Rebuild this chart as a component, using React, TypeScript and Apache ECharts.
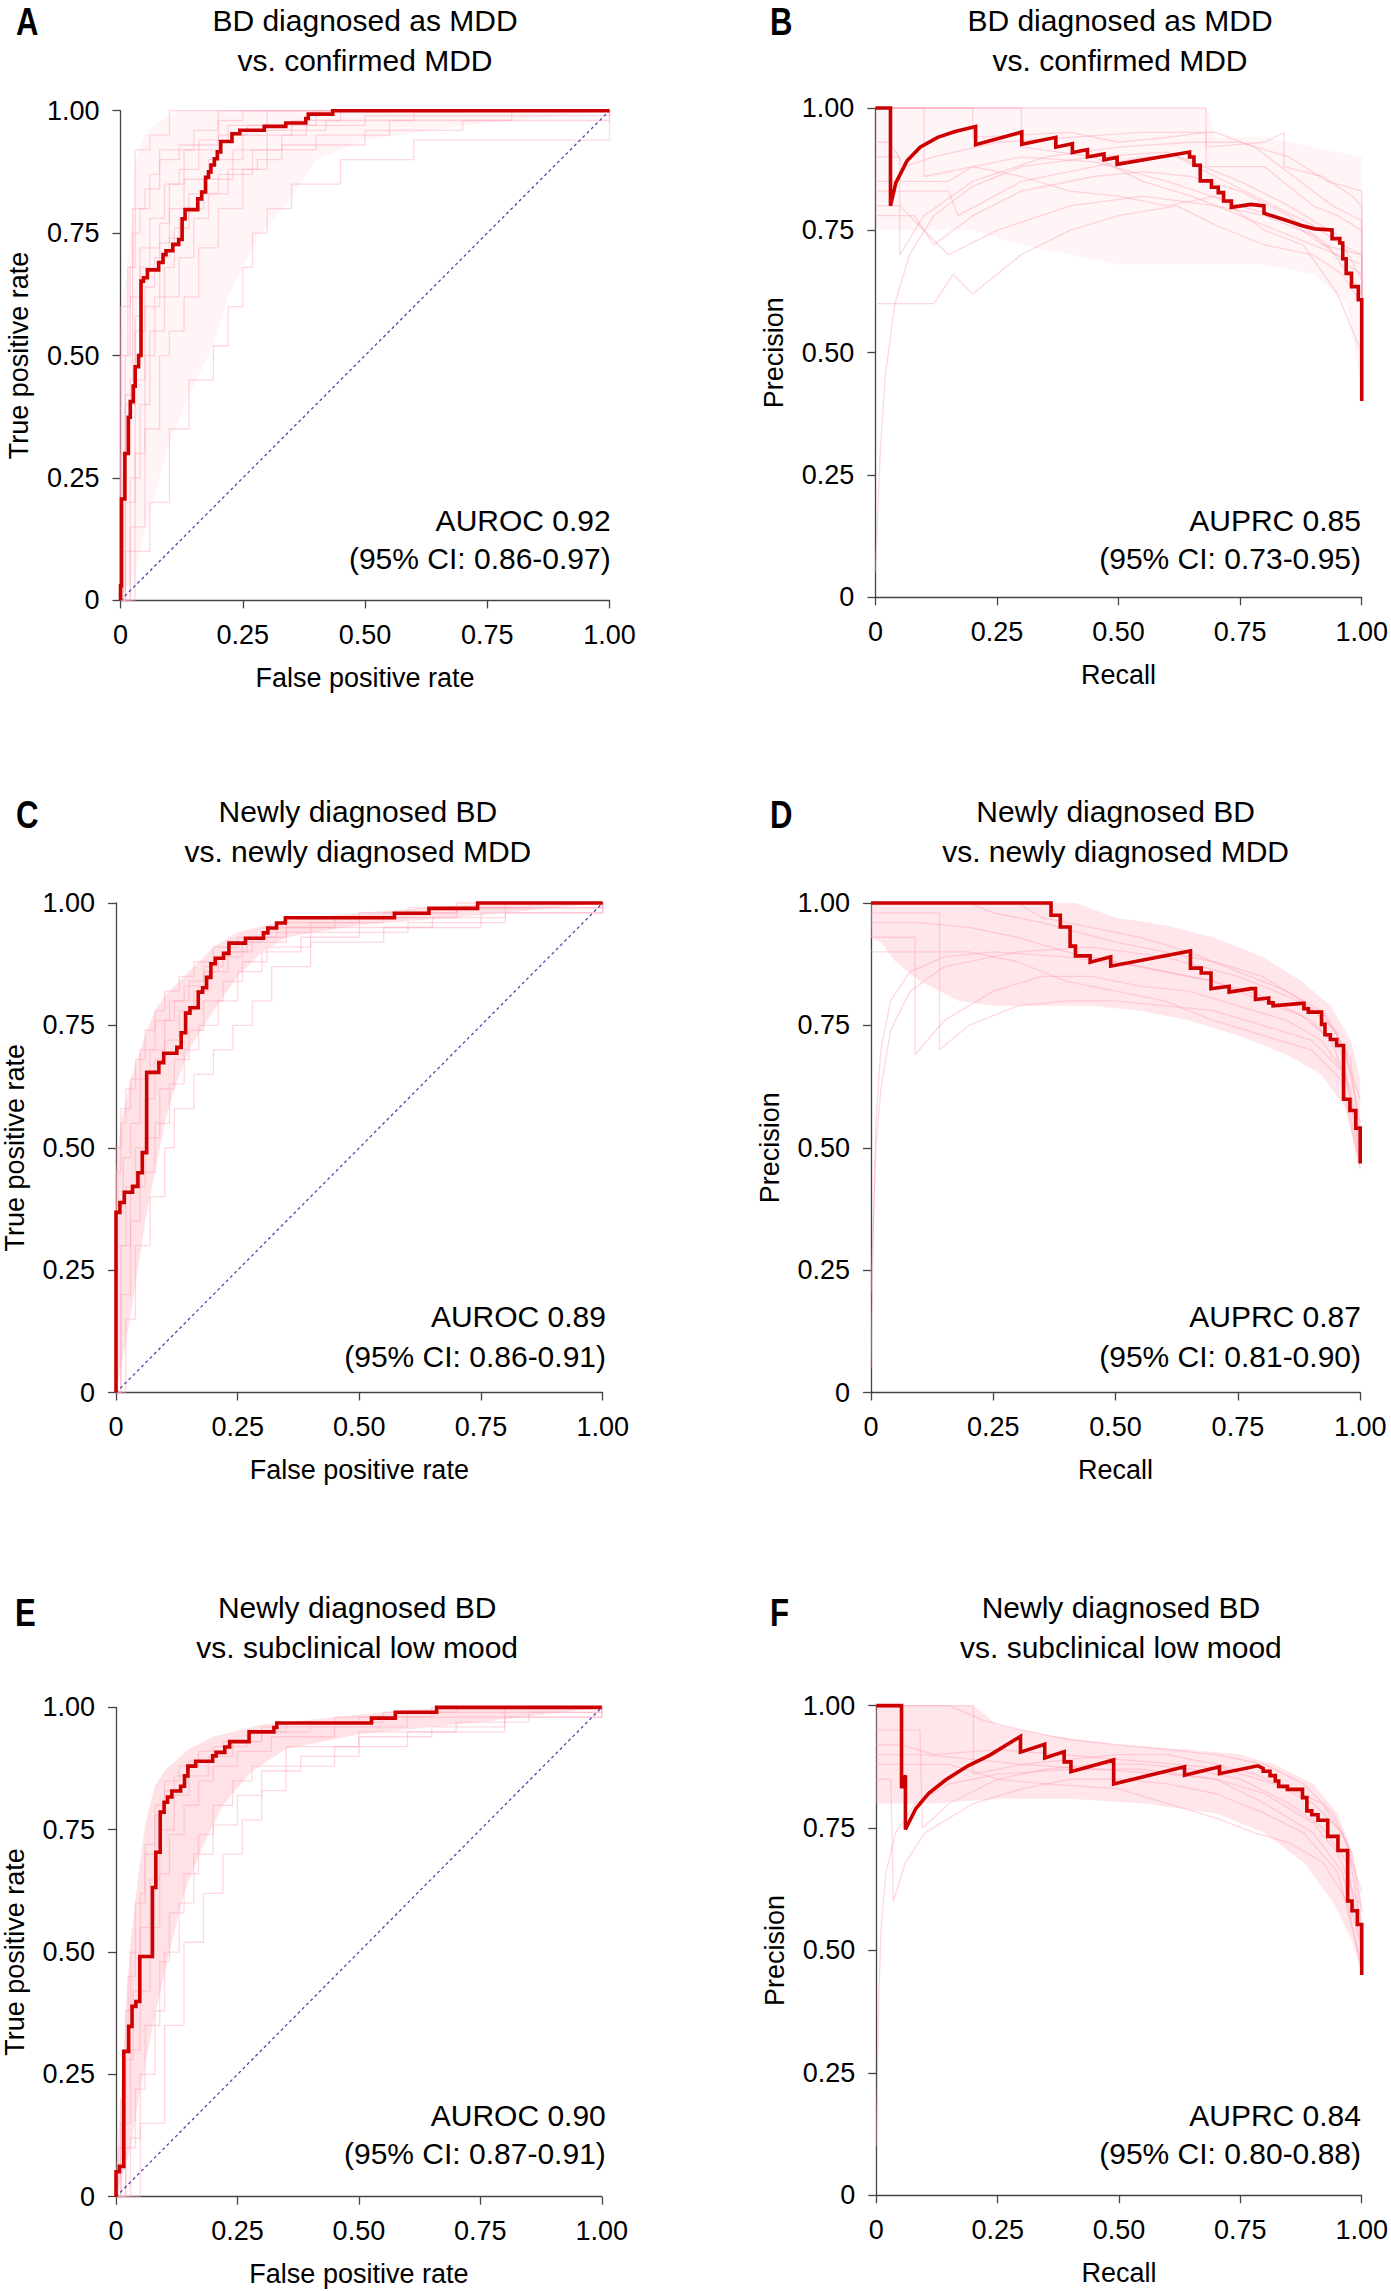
import React, { useEffect, useRef } from "react";
import * as echarts from "echarts";

const PAGE_W = 1391;
const PAGE_H = 2291;
const FONT = '"Liberation Sans", Arial, Helvetica, sans-serif';

// ---------- text ----------
const tickValues = [0, 0.25, 0.5, 0.75, 1];
const tickLabels = ["0", "0.25", "0.50", "0.75", "1.00"];
const panelLetters = ["A", "B", "C", "D", "E", "F"];
const titleLine1 = [
  "BD diagnosed as MDD",
  "BD diagnosed as MDD",
  "Newly diagnosed BD",
  "Newly diagnosed BD",
  "Newly diagnosed BD",
  "Newly diagnosed BD",
];
const titleLine2 = [
  "vs. confirmed MDD",
  "vs. confirmed MDD",
  "vs. newly diagnosed MDD",
  "vs. newly diagnosed MDD",
  "vs. subclinical low mood",
  "vs. subclinical low mood",
];
const metricText = ["AUROC 0.92", "AUPRC 0.85", "AUROC 0.89", "AUPRC 0.87", "AUROC 0.90", "AUPRC 0.84"];
const ciText = [
  "(95% CI: 0.86-0.97)",
  "(95% CI: 0.73-0.95)",
  "(95% CI: 0.86-0.91)",
  "(95% CI: 0.81-0.90)",
  "(95% CI: 0.87-0.91)",
  "(95% CI: 0.80-0.88)",
];
const xNames = ["False positive rate", "Recall", "False positive rate", "Recall", "False positive rate", "Recall"];
const yNames = ["True positive rate", "Precision", "True positive rate", "Precision", "True positive rate", "Precision"];
const panelKinds = ["roc", "pr", "roc", "pr", "roc", "pr"];

// ---------- main (red) curves ----------
// ROC: corner points, drawn as step ("end")
const rocA_fpr = [0, 0, 0.002, 0.009, 0.016, 0.02, 0.026, 0.03, 0.037, 0.042, 0.047, 0.055, 0.078, 0.087, 0.093, 0.107, 0.119, 0.126, 0.132, 0.158, 0.166, 0.174, 0.18, 0.185, 0.192, 0.198, 0.205, 0.228, 0.244, 0.294, 0.338, 0.379, 0.384, 0.434, 1];
const rocA_tpr = [0, 0.03, 0.207, 0.3, 0.374, 0.406, 0.4375, 0.477, 0.5, 0.652, 0.659, 0.675, 0.69, 0.706, 0.714, 0.727, 0.737, 0.779, 0.798, 0.82, 0.834, 0.864, 0.875, 0.889, 0.902, 0.916, 0.937, 0.953, 0.96, 0.968, 0.975, 0.984, 0.993, 1, 1];

const rocC_fpr = [0, 0, 0.008, 0.017, 0.034, 0.045, 0.054, 0.063, 0.088, 0.098, 0.125, 0.134, 0.143, 0.152, 0.169, 0.178, 0.186, 0.195, 0.204, 0.221, 0.232, 0.266, 0.303, 0.312, 0.33, 0.348, 0.572, 0.643, 0.743, 1];
const rocC_tpr = [0, 0.368, 0.388, 0.409, 0.421, 0.449, 0.49, 0.654, 0.674, 0.693, 0.705, 0.735, 0.775, 0.786, 0.818, 0.827, 0.848, 0.876, 0.887, 0.897, 0.918, 0.928, 0.939, 0.949, 0.959, 0.97, 0.979, 0.989, 1, 1];

const rocE_fpr = [0, 0, 0.007, 0.016, 0.026, 0.033, 0.041, 0.049, 0.075, 0.082, 0.091, 0.099, 0.106, 0.115, 0.133, 0.141, 0.148, 0.164, 0.199, 0.206, 0.224, 0.234, 0.274, 0.325, 0.331, 0.526, 0.575, 0.66, 1];
const rocE_tpr = [0, 0.051, 0.062, 0.297, 0.348, 0.389, 0.399, 0.491, 0.632, 0.704, 0.786, 0.806, 0.817, 0.829, 0.839, 0.86, 0.88, 0.89, 0.901, 0.908, 0.919, 0.93, 0.95, 0.959, 0.968, 0.978, 0.99, 1, 1];

// PR: explicit vertices [recall, precision]
const prB = [[0, 1], [0.031, 1], [0.031, 0.8], [0.042, 0.847], [0.065, 0.892], [0.092, 0.92], [0.128, 0.94], [0.164, 0.952], [0.206, 0.962], [0.206, 0.925], [0.301, 0.951], [0.301, 0.926], [0.371, 0.94], [0.371, 0.92], [0.405, 0.927], [0.405, 0.909], [0.436, 0.915], [0.436, 0.9], [0.47, 0.906], [0.47, 0.894], [0.497, 0.899], [0.497, 0.885], [0.646, 0.91], [0.646, 0.9], [0.655, 0.9], [0.655, 0.883], [0.668, 0.883], [0.668, 0.851], [0.691, 0.851], [0.691, 0.838], [0.705, 0.838], [0.705, 0.827], [0.716, 0.827], [0.716, 0.81], [0.732, 0.81], [0.732, 0.797], [0.772, 0.803], [0.799, 0.8], [0.799, 0.785], [0.849, 0.769], [0.876, 0.76], [0.903, 0.753], [0.939, 0.751], [0.939, 0.733], [0.955, 0.733], [0.955, 0.724], [0.961, 0.724], [0.961, 0.692], [0.968, 0.692], [0.968, 0.662], [0.979, 0.662], [0.979, 0.635], [0.993, 0.635], [0.993, 0.608], [1, 0.608], [1, 0.401]];

const prD = [[0, 1], [0.368, 1], [0.368, 0.975], [0.387, 0.975], [0.387, 0.951], [0.407, 0.951], [0.407, 0.912], [0.418, 0.912], [0.418, 0.892], [0.448, 0.892], [0.448, 0.879], [0.49, 0.89], [0.49, 0.871], [0.653, 0.902], [0.653, 0.867], [0.675, 0.867], [0.675, 0.857], [0.695, 0.857], [0.695, 0.825], [0.732, 0.83], [0.732, 0.818], [0.777, 0.825], [0.786, 0.825], [0.786, 0.803], [0.813, 0.806], [0.813, 0.796], [0.822, 0.796], [0.822, 0.79], [0.88, 0.795], [0.885, 0.795], [0.885, 0.784], [0.894, 0.784], [0.894, 0.777], [0.921, 0.777], [0.921, 0.752], [0.928, 0.752], [0.928, 0.731], [0.939, 0.731], [0.939, 0.721], [0.952, 0.721], [0.952, 0.709], [0.966, 0.709], [0.966, 0.599], [0.979, 0.599], [0.979, 0.576], [0.991, 0.576], [0.991, 0.54], [1, 0.54], [1, 0.468]];

const prF = [[0, 1], [0.052, 1], [0.052, 0.831], [0.06, 0.858], [0.06, 0.747], [0.081, 0.789], [0.108, 0.821], [0.144, 0.849], [0.189, 0.877], [0.234, 0.899], [0.297, 0.937], [0.297, 0.905], [0.347, 0.921], [0.347, 0.893], [0.387, 0.906], [0.387, 0.885], [0.401, 0.885], [0.401, 0.865], [0.489, 0.889], [0.489, 0.84], [0.635, 0.875], [0.635, 0.858], [0.707, 0.875], [0.707, 0.861], [0.786, 0.877], [0.797, 0.872], [0.797, 0.866], [0.811, 0.866], [0.811, 0.857], [0.822, 0.857], [0.822, 0.846], [0.829, 0.846], [0.829, 0.835], [0.847, 0.835], [0.847, 0.829], [0.878, 0.829], [0.878, 0.812], [0.887, 0.812], [0.887, 0.785], [0.897, 0.785], [0.897, 0.777], [0.91, 0.777], [0.91, 0.766], [0.93, 0.766], [0.93, 0.733], [0.951, 0.733], [0.951, 0.704], [0.971, 0.704], [0.971, 0.601], [0.98, 0.601], [0.98, 0.581], [0.991, 0.581], [0.991, 0.553], [1, 0.553], [1, 0.45]];

// ---------- bootstrap (pink) curves ----------
const bootA1 = [[0, 0], [0, 0.6], [0.02, 0.68], [0.03, 0.92], [0.06, 0.95], [0.1, 1], [1, 1]];
const bootA2 = [[0, 0], [0.005, 0.3], [0.02, 0.45], [0.025, 0.8], [0.05, 0.84], [0.08, 0.92], [0.15, 0.96], [0.2, 1], [1, 1]];
const bootA3 = [[0, 0], [0.01, 0.2], [0.03, 0.45], [0.05, 0.6], [0.08, 0.73], [0.1, 0.8], [0.13, 0.86], [0.18, 0.9], [0.25, 0.95], [0.35, 0.98], [0.45, 1], [1, 1]];
const bootA4 = [[0, 0], [0.02, 0.15], [0.05, 0.35], [0.08, 0.5], [0.1, 0.55], [0.13, 0.62], [0.16, 0.72], [0.2, 0.8], [0.25, 0.88], [0.3, 0.92], [0.4, 0.95], [0.55, 0.98], [0.8, 1], [1, 1]];
const bootA5 = [[0, 0], [0.03, 0.1], [0.06, 0.2], [0.1, 0.35], [0.14, 0.45], [0.19, 0.52], [0.22, 0.6], [0.25, 0.68], [0.27, 0.75], [0.3, 0.8], [0.35, 0.85], [0.45, 0.9], [0.6, 0.94], [1, 1]];
const bootA6 = [[0, 0], [0, 0.5], [0.02, 0.62], [0.04, 0.68], [0.06, 0.78], [0.09, 0.85], [0.12, 0.88], [0.16, 0.94], [0.22, 0.97], [0.3, 1], [1, 1]];
const bootA7 = [[0, 0], [0.01, 0.4], [0.03, 0.55], [0.05, 0.64], [0.07, 0.7], [0.1, 0.74], [0.12, 0.78], [0.14, 0.83], [0.2, 0.87], [0.27, 0.92], [0.33, 0.95], [0.38, 0.97], [0.5, 0.99], [1, 1]];
const bootA8 = [[0, 0], [0.005, 0.25], [0.01, 0.42], [0.03, 0.58], [0.04, 0.72], [0.08, 0.77], [0.1, 0.85], [0.13, 0.92], [0.2, 0.95], [0.26, 0.97], [0.4, 1], [1, 1]];
const bootA9 = [[0, 0], [0, 0.3], [0.01, 0.5], [0.015, 0.68], [0.025, 0.75], [0.04, 0.8], [0.06, 0.87], [0.08, 0.9], [0.12, 0.93], [0.2, 0.98], [0.25, 1], [1, 1]];
const bootA10 = [[0, 0], [0.02, 0.25], [0.04, 0.4], [0.06, 0.55], [0.09, 0.62], [0.12, 0.7], [0.15, 0.78], [0.18, 0.83], [0.22, 0.88], [0.28, 0.9], [0.33, 0.93], [0.5, 0.96], [0.7, 0.98], [1, 1]];
const bootA11 = [[0, 0], [0.01, 0.1], [0.03, 0.3], [0.05, 0.5], [0.07, 0.62], [0.09, 0.68], [0.11, 0.76], [0.14, 0.8], [0.17, 0.86], [0.23, 0.92], [0.3, 0.96], [0.42, 0.98], [0.6, 1], [1, 1]];

const bootB1 = [[0, 1], [0.2, 1], [0.2, 0.94], [0.4, 0.95], [0.5, 0.93], [0.6, 0.94], [0.68, 0.95], [0.68, 0.88], [0.8, 0.88], [0.9, 0.8], [0.95, 0.78], [1, 0.75], [1, 0.5]];
const bootB2 = [[0, 1], [0.1, 1], [0.1, 0.86], [0.3, 0.9], [0.45, 0.89], [0.6, 0.85], [0.75, 0.8], [0.85, 0.77], [0.92, 0.72], [1, 0.7], [1, 0.45]];
const bootB3 = [[0, 0.05], [0.01, 0.3], [0.02, 0.45], [0.04, 0.6], [0.07, 0.7], [0.12, 0.78], [0.2, 0.84], [0.3, 0.88], [0.45, 0.9], [0.6, 0.91], [0.75, 0.85], [0.85, 0.8], [0.95, 0.74], [1, 0.65], [1, 0.42]];
const bootB4 = [[0, 0.6], [0.12, 0.6], [0.16, 0.66], [0.2, 0.62], [0.3, 0.7], [0.4, 0.75], [0.5, 0.78], [0.62, 0.8], [0.7, 0.76], [0.8, 0.72], [0.9, 0.7], [0.96, 0.66], [1, 0.6], [1, 0.4]];
const bootB5 = [[0, 0.9], [0.05, 0.9], [0.05, 0.7], [0.1, 0.78], [0.2, 0.85], [0.35, 0.9], [0.5, 0.92], [0.65, 0.93], [0.75, 0.93], [0.85, 0.9], [0.93, 0.85], [1, 0.83], [1, 0.5]];
const bootB6 = [[0, 1], [0.3, 1], [0.3, 0.92], [0.45, 0.9], [0.55, 0.85], [0.65, 0.82], [0.75, 0.78], [0.85, 0.74], [0.95, 0.7], [1, 0.68], [1, 0.48]];
const bootB7 = [[0, 0.8], [0.05, 0.8], [0.1, 0.75], [0.15, 0.7], [0.25, 0.75], [0.4, 0.8], [0.55, 0.82], [0.7, 0.8], [0.8, 0.78], [0.9, 0.74], [0.97, 0.68], [1, 0.66], [1, 0.45]];
const bootB8 = [[0, 1], [0.68, 1], [0.68, 0.92], [0.8, 0.93], [0.84, 0.95], [0.84, 0.88], [0.92, 0.86], [0.98, 0.82], [1, 0.8], [1, 0.55]];
const bootB9 = [[0, 0.85], [0.15, 0.85], [0.2, 0.88], [0.3, 0.86], [0.4, 0.83], [0.5, 0.82], [0.6, 0.8], [0.7, 0.82], [0.8, 0.75], [0.88, 0.72], [0.95, 0.62], [1, 0.5]];
const bootB10 = [[0, 0.93], [0.03, 0.93], [0.06, 0.88], [0.12, 0.9], [0.25, 0.93], [0.4, 0.94], [0.55, 0.95], [0.7, 0.95], [0.78, 0.92], [0.86, 0.86], [0.94, 0.8], [1, 0.77], [1, 0.45]];
const bootB11 = [[0, 0.78], [0.08, 0.78], [0.12, 0.72], [0.2, 0.78], [0.3, 0.83], [0.45, 0.86], [0.55, 0.87], [0.65, 0.86], [0.75, 0.83], [0.85, 0.78], [0.93, 0.72], [1, 0.62], [1, 0.42]];
const bootB12 = [[0, 0.83], [0.15, 0.83], [0.17, 0.78], [0.3, 0.85], [0.45, 0.88], [0.55, 0.9], [0.62, 0.9], [0.7, 0.86], [0.82, 0.8], [0.9, 0.76], [0.96, 0.72], [1, 0.7], [1, 0.5]];

const bootC1 = [[0, 0], [0, 0.45], [0.01, 0.55], [0.02, 0.62], [0.04, 0.68], [0.06, 0.74], [0.08, 0.78], [0.1, 0.82], [0.13, 0.85], [0.16, 0.88], [0.2, 0.91], [0.25, 0.93], [0.33, 0.95], [0.45, 0.97], [0.6, 0.99], [0.8, 1], [1, 1]];
const bootC2 = [[0, 0], [0, 0.3], [0.02, 0.42], [0.04, 0.5], [0.06, 0.6], [0.08, 0.68], [0.1, 0.72], [0.13, 0.78], [0.16, 0.82], [0.19, 0.86], [0.23, 0.9], [0.28, 0.93], [0.35, 0.95], [0.5, 0.97], [0.7, 0.99], [0.85, 1], [1, 1]];
const bootC3 = [[0, 0], [0.01, 0.2], [0.03, 0.35], [0.05, 0.45], [0.08, 0.55], [0.11, 0.63], [0.14, 0.7], [0.17, 0.75], [0.21, 0.8], [0.25, 0.86], [0.3, 0.9], [0.38, 0.93], [0.5, 0.95], [0.65, 0.97], [0.8, 0.99], [1, 1]];
const bootC4 = [[0, 0], [0, 0.38], [0.015, 0.48], [0.03, 0.55], [0.05, 0.64], [0.07, 0.7], [0.1, 0.76], [0.12, 0.8], [0.15, 0.84], [0.18, 0.87], [0.22, 0.9], [0.27, 0.92], [0.35, 0.96], [0.5, 0.98], [0.7, 1], [1, 1]];
const bootC5 = [[0, 0], [0.02, 0.15], [0.04, 0.3], [0.07, 0.4], [0.1, 0.5], [0.12, 0.58], [0.16, 0.65], [0.2, 0.7], [0.24, 0.75], [0.28, 0.8], [0.32, 0.87], [0.4, 0.92], [0.55, 0.95], [0.75, 0.98], [1, 1]];
const bootC6 = [[0, 0], [0, 0.5], [0.01, 0.58], [0.03, 0.64], [0.05, 0.7], [0.08, 0.76], [0.11, 0.8], [0.14, 0.83], [0.18, 0.86], [0.21, 0.89], [0.26, 0.92], [0.3, 0.94], [0.4, 0.96], [0.55, 0.98], [0.7, 0.99], [1, 1]];
const bootC7 = [[0, 0], [0.01, 0.3], [0.03, 0.42], [0.06, 0.52], [0.09, 0.62], [0.12, 0.68], [0.15, 0.74], [0.18, 0.8], [0.22, 0.84], [0.26, 0.88], [0.31, 0.91], [0.4, 0.94], [0.6, 0.96], [0.8, 0.98], [1, 1]];

const bootD1 = [[0, 1], [0.3, 1], [0.35, 0.97], [0.45, 0.95], [0.55, 0.93], [0.65, 0.9], [0.75, 0.86], [0.85, 0.82], [0.92, 0.78], [0.97, 0.7], [1, 0.55]];
const bootD2 = [[0, 0.96], [0.1, 0.96], [0.2, 0.95], [0.3, 0.93], [0.4, 0.9], [0.5, 0.88], [0.6, 0.86], [0.7, 0.84], [0.8, 0.8], [0.88, 0.77], [0.94, 0.72], [0.98, 0.62], [1, 0.5]];
const bootD3 = [[0, 0.05], [0.005, 0.35], [0.01, 0.55], [0.02, 0.7], [0.04, 0.8], [0.08, 0.86], [0.15, 0.89], [0.25, 0.9], [0.4, 0.89], [0.55, 0.87], [0.7, 0.84], [0.8, 0.81], [0.9, 0.76], [0.96, 0.7], [1, 0.5]];
const bootD4 = [[0, 0.93], [0.09, 0.93], [0.09, 0.69], [0.15, 0.76], [0.25, 0.82], [0.35, 0.85], [0.45, 0.85], [0.55, 0.83], [0.65, 0.82], [0.75, 0.79], [0.85, 0.76], [0.92, 0.72], [0.97, 0.65], [1, 0.48]];
const bootD5 = [[0, 0.98], [0.14, 0.98], [0.14, 0.7], [0.2, 0.75], [0.3, 0.79], [0.4, 0.8], [0.5, 0.8], [0.6, 0.79], [0.7, 0.78], [0.8, 0.75], [0.9, 0.72], [0.96, 0.66], [1, 0.47]];
const bootD6 = [[0, 1], [0.2, 1], [0.25, 0.98], [0.35, 0.96], [0.5, 0.92], [0.6, 0.9], [0.7, 0.88], [0.8, 0.85], [0.88, 0.8], [0.95, 0.74], [1, 0.6]];
const bootD7 = [[0, 0.2], [0.01, 0.5], [0.02, 0.62], [0.04, 0.74], [0.08, 0.82], [0.15, 0.87], [0.3, 0.9], [0.45, 0.91], [0.6, 0.89], [0.75, 0.85], [0.85, 0.81], [0.93, 0.77], [0.98, 0.68], [1, 0.52]];
const bootD8 = [[0, 0.9], [0.2, 0.9], [0.3, 0.88], [0.4, 0.84], [0.5, 0.82], [0.6, 0.8], [0.7, 0.76], [0.8, 0.73], [0.9, 0.7], [0.96, 0.64], [1, 0.46]];

const bootE1 = [[0, 0], [0.01, 0.2], [0.02, 0.38], [0.03, 0.5], [0.05, 0.62], [0.06, 0.72], [0.08, 0.8], [0.1, 0.85], [0.13, 0.88], [0.17, 0.91], [0.22, 0.93], [0.3, 0.95], [0.4, 0.97], [0.55, 0.99], [0.7, 1], [1, 1]];
const bootE2 = [[0, 0], [0.02, 0.15], [0.03, 0.3], [0.05, 0.42], [0.07, 0.55], [0.09, 0.66], [0.11, 0.74], [0.14, 0.8], [0.17, 0.85], [0.2, 0.88], [0.25, 0.91], [0.32, 0.94], [0.45, 0.96], [0.6, 0.98], [0.8, 1], [1, 1]];
const bootE3 = [[0, 0], [0.02, 0.1], [0.04, 0.22], [0.06, 0.35], [0.09, 0.48], [0.11, 0.58], [0.14, 0.66], [0.17, 0.74], [0.2, 0.8], [0.24, 0.85], [0.28, 0.88], [0.35, 0.92], [0.5, 0.95], [0.7, 0.97], [0.85, 0.99], [1, 1]];
const bootE4 = [[0, 0], [0.005, 0.1], [0.015, 0.3], [0.025, 0.45], [0.04, 0.6], [0.06, 0.7], [0.08, 0.78], [0.1, 0.83], [0.12, 0.86], [0.15, 0.89], [0.2, 0.92], [0.27, 0.95], [0.35, 0.97], [0.5, 0.98], [0.65, 1], [1, 1]];
const bootE5 = [[0, 0], [0.03, 0.12], [0.05, 0.25], [0.08, 0.38], [0.1, 0.5], [0.13, 0.6], [0.16, 0.7], [0.2, 0.76], [0.25, 0.82], [0.3, 0.87], [0.38, 0.9], [0.5, 0.94], [0.65, 0.96], [0.8, 0.98], [1, 1]];
const bootE6 = [[0, 0], [0.01, 0.15], [0.02, 0.28], [0.035, 0.42], [0.05, 0.55], [0.07, 0.65], [0.09, 0.75], [0.12, 0.82], [0.15, 0.86], [0.19, 0.9], [0.24, 0.93], [0.3, 0.96], [0.45, 0.98], [0.6, 0.99], [1, 1]];
const bootE7 = [[0, 0], [0.05, 0.15], [0.1, 0.35], [0.14, 0.52], [0.18, 0.62], [0.22, 0.7], [0.26, 0.77], [0.3, 0.83], [0.35, 0.88], [0.45, 0.92], [0.6, 0.95], [0.8, 0.98], [1, 1]];

const bootF1 = [[0, 1], [0.15, 1], [0.22, 0.97], [0.3, 0.95], [0.4, 0.93], [0.5, 0.92], [0.6, 0.91], [0.7, 0.9], [0.8, 0.88], [0.88, 0.84], [0.94, 0.78], [0.98, 0.7], [1, 0.58]];
const bootF2 = [[0, 0.9], [0.1, 0.9], [0.2, 0.89], [0.3, 0.88], [0.45, 0.87], [0.6, 0.86], [0.7, 0.85], [0.8, 0.82], [0.9, 0.76], [0.95, 0.7], [0.99, 0.6], [1, 0.5]];
const bootF3 = [[0, 0.1], [0.005, 0.4], [0.01, 0.55], [0.02, 0.66], [0.04, 0.74], [0.08, 0.8], [0.15, 0.84], [0.25, 0.86], [0.4, 0.87], [0.55, 0.87], [0.7, 0.85], [0.8, 0.8], [0.9, 0.74], [0.96, 0.66], [1, 0.5]];
const bootF4 = [[0, 0.85], [0.03, 0.85], [0.035, 0.6], [0.06, 0.68], [0.1, 0.74], [0.2, 0.8], [0.3, 0.83], [0.4, 0.85], [0.5, 0.85], [0.6, 0.84], [0.7, 0.82], [0.8, 0.78], [0.88, 0.74], [0.95, 0.66], [1, 0.47]];
const bootF5 = [[0, 0.95], [0.09, 0.95], [0.095, 0.75], [0.15, 0.8], [0.25, 0.85], [0.35, 0.87], [0.45, 0.88], [0.55, 0.88], [0.65, 0.87], [0.75, 0.85], [0.85, 0.8], [0.92, 0.75], [0.97, 0.68], [1, 0.5]];
const bootF6 = [[0, 1], [0.2, 1], [0.2, 0.86], [0.3, 0.88], [0.4, 0.89], [0.5, 0.9], [0.6, 0.9], [0.7, 0.88], [0.78, 0.86], [0.85, 0.83], [0.92, 0.8], [0.97, 0.72], [1, 0.55]];
const bootF7 = [[0, 0.88], [0.15, 0.88], [0.25, 0.85], [0.35, 0.84], [0.5, 0.83], [0.6, 0.8], [0.7, 0.77], [0.78, 0.74], [0.85, 0.72], [0.92, 0.68], [0.97, 0.6], [1, 0.46]];
const bootF8 = [[0, 0.92], [0.05, 0.92], [0.12, 0.9], [0.25, 0.91], [0.38, 0.9], [0.5, 0.89], [0.62, 0.88], [0.72, 0.87], [0.82, 0.84], [0.9, 0.8], [0.96, 0.74], [1, 0.62]];

// ---------- bootstrap envelopes ----------
const bandA_upper = [[0, 0], [0, 0.55], [0.01, 0.65], [0.025, 0.8], [0.03, 0.9], [0.05, 0.95], [0.08, 0.98], [0.12, 1], [1, 1]];
const bandA_lower = [[1, 1], [0.7, 0.97], [0.5, 0.94], [0.4, 0.9], [0.35, 0.82], [0.28, 0.74], [0.22, 0.62], [0.19, 0.52], [0.14, 0.42], [0.1, 0.32], [0.06, 0.18], [0.03, 0.06], [0, 0]];
const bandB_upper = [[0, 1], [0.68, 1], [0.7, 0.94], [0.8, 0.94], [0.9, 0.92], [1, 0.9]];
const bandB_lower = [[1, 0.42], [0.97, 0.6], [0.9, 0.66], [0.8, 0.68], [0.7, 0.68], [0.6, 0.68], [0.5, 0.68], [0.4, 0.7], [0.3, 0.72], [0.2, 0.75], [0.1, 0.75], [0, 0.75]];
const bandC_upper = [[0, 0], [0, 0.45], [0.01, 0.55], [0.03, 0.64], [0.06, 0.73], [0.08, 0.78], [0.1, 0.81], [0.13, 0.84], [0.17, 0.88], [0.2, 0.91], [0.25, 0.94], [0.35, 0.965], [0.5, 0.98], [0.7, 0.995], [0.8, 1], [1, 1]];
const bandC_lower = [[1, 1], [0.75, 0.975], [0.5, 0.955], [0.35, 0.93], [0.3, 0.9], [0.25, 0.85], [0.2, 0.78], [0.15, 0.7], [0.12, 0.62], [0.1, 0.55], [0.08, 0.45], [0.06, 0.35], [0.04, 0.22], [0.02, 0.1], [0, 0]];
const bandD_upper = [[0, 1], [0.42, 1], [0.5, 0.97], [0.6, 0.955], [0.7, 0.93], [0.8, 0.89], [0.88, 0.84], [0.94, 0.79], [0.98, 0.72], [1, 0.64]];
const bandD_lower = [[1, 0.45], [0.97, 0.58], [0.92, 0.65], [0.85, 0.69], [0.75, 0.73], [0.65, 0.76], [0.55, 0.78], [0.45, 0.79], [0.35, 0.79], [0.25, 0.79], [0.18, 0.8], [0.1, 0.84], [0.05, 0.88], [0.02, 0.92], [0, 0.93]];
const bandE_upper = [[0, 0], [0, 0.05], [0.01, 0.2], [0.02, 0.38], [0.03, 0.52], [0.045, 0.65], [0.06, 0.76], [0.08, 0.84], [0.1, 0.87], [0.15, 0.915], [0.2, 0.94], [0.3, 0.965], [0.45, 0.98], [0.6, 0.995], [0.7, 1], [1, 1]];
const bandE_lower = [[1, 1], [0.75, 0.97], [0.5, 0.945], [0.35, 0.915], [0.28, 0.87], [0.22, 0.8], [0.18, 0.72], [0.14, 0.62], [0.11, 0.5], [0.08, 0.37], [0.05, 0.22], [0.03, 0.1], [0, 0]];
const bandF_upper = [[0, 1], [0.2, 1], [0.25, 0.96], [0.35, 0.94], [0.5, 0.92], [0.65, 0.91], [0.75, 0.9], [0.82, 0.88], [0.9, 0.84], [0.95, 0.78], [0.98, 0.7], [1, 0.6]];
const bandF_lower = [[1, 0.45], [0.98, 0.52], [0.94, 0.6], [0.88, 0.68], [0.8, 0.74], [0.7, 0.78], [0.55, 0.8], [0.4, 0.81], [0.25, 0.81], [0.12, 0.8], [0.06, 0.8], [0, 0.8]];

const diagonal = [[0, 0], [1, 1]];

// ---------- layout (pixels) ----------
const grids = [
  { left: 120.5, top: 110.7, width: 489, height: 489.7 },
  { left: 875.4, top: 108, width: 489.2, height: 489.3 },
  { left: 113, top: 903, width: 489.7, height: 489.5 },
  { left: 871, top: 903, width: 489.2, height: 489.5 },
  { left: 112.5, top: 1707.4, width: 489.3, height: 489.3 },
  { left: 876.3, top: 1705.6, width: 489.2, height: 489.7 },
];
const titleBaselines = [[30.4, 70.5], [30.4, 70.5], [822, 861.7], [822, 861.7], [1617.6, 1658], [1617.6, 1658]];
const letterPos = [[16, 35], [770, 35], [16, 828], [770, 828], [15, 1626], [770, 1626]];
const annotRight = [610.7, 1361, 606, 1361, 605.8, 1361];
const annotBaselines = [[531, 569], [531, 569], [1327.3, 1366.8], [1327.3, 1366.8], [2125.6, 2164], [2125.6, 2164]];

const RED = "#cc0000";
const PINK_LINE = "rgba(255,160,180,0.42)";

function zip(a: number[], b: number[]) {
  return a.map((v, i) => [v, b[i]]);
}

const panels = [
  { main: zip(rocA_fpr, rocA_tpr), boots: [bootA1, bootA2, bootA3, bootA4, bootA5, bootA6, bootA7, bootA8, bootA9, bootA10, bootA11], band: [...bandA_upper, ...bandA_lower], bandFill: "rgba(255,190,200,0.16)" },
  { main: prB, boots: [bootB1, bootB2, bootB3, bootB4, bootB5, bootB6, bootB7, bootB8, bootB9, bootB10, bootB11, bootB12], band: [...bandB_upper, ...bandB_lower], bandFill: "rgba(255,190,200,0.16)" },
  { main: zip(rocC_fpr, rocC_tpr), boots: [bootC1, bootC2, bootC3, bootC4, bootC5, bootC6, bootC7], band: [...bandC_upper, ...bandC_lower], bandFill: "rgba(255,185,196,0.42)" },
  { main: prD, boots: [bootD1, bootD2, bootD3, bootD4, bootD5, bootD6, bootD7, bootD8], band: [...bandD_upper, ...bandD_lower], bandFill: "rgba(255,185,196,0.36)" },
  { main: zip(rocE_fpr, rocE_tpr), boots: [bootE1, bootE2, bootE3, bootE4, bootE5, bootE6, bootE7], band: [...bandE_upper, ...bandE_lower], bandFill: "rgba(255,185,196,0.42)" },
  { main: prF, boots: [bootF1, bootF2, bootF3, bootF4, bootF5, bootF6, bootF7, bootF8], band: [...bandF_upper, ...bandF_lower], bandFill: "rgba(255,185,196,0.36)" },
];

function tickFormatter(v: number) {
  const i = tickValues.findIndex((t) => Math.abs(t - v) < 1e-9);
  return i >= 0 ? tickLabels[i] : "";
}

function midFromBaseline(baseline: number, size: number) {
  return baseline - 0.3465 * size;
}

function textEl(x: number, baseline: number, text: string, size: number, align: string, bold = false, scaleX = 1) {
  return {
    type: "text",
    x,
    y: midFromBaseline(baseline, size),
    scaleX,
    silent: true,
    style: {
      text,
      fontSize: size,
      fontFamily: FONT,
      fontWeight: bold ? "bold" : "normal",
      fill: "#000",
      textAlign: align,
      textVerticalAlign: "middle",
    },
  };
}

function buildOption() {
  const axisLineStyle = { color: "#444", width: 1.3 };
  const labelStyle = { fontSize: 27, color: "#000", fontFamily: FONT, margin: 21, formatter: tickFormatter, showMinLabel: true, showMaxLabel: true };
  const nameStyle = { fontSize: 27, color: "#000", fontFamily: FONT };

  const grid = grids.map((g) => ({ left: g.left, top: g.top, width: g.width, height: g.height, containLabel: false }));
  const xAxis = grids.map((_, i) => ({
    gridIndex: i,
    type: "value",
    min: 0,
    max: 1,
    interval: 0.25,
    axisLine: { show: true, onZero: false, lineStyle: axisLineStyle },
    axisTick: { show: true, length: 8, inside: false, lineStyle: axisLineStyle },
    splitLine: { show: false },
    axisLabel: labelStyle,
    name: xNames[i],
    nameLocation: "middle",
    nameGap: 64,
    nameTextStyle: nameStyle,
  }));
  const yAxis = grids.map((_, i) => ({
    gridIndex: i,
    type: "value",
    min: 0,
    max: 1,
    interval: 0.25,
    axisLine: { show: true, onZero: false, lineStyle: axisLineStyle },
    axisTick: { show: true, length: 8, inside: false, lineStyle: axisLineStyle },
    splitLine: { show: false },
    axisLabel: labelStyle,
    name: yNames[i],
    nameLocation: "middle",
    nameGap: 88,
    nameTextStyle: nameStyle,
  }));

  const series: any[] = [];
  panels.forEach((p, i) => {
    const isRoc = panelKinds[i] === "roc";
    series.push({
      type: "custom",
      coordinateSystem: "cartesian2d",
      xAxisIndex: i,
      yAxisIndex: i,
      silent: true,
      clip: false,
      z: 1,
      data: [[0, 0]],
      renderItem: (_params: any, api: any) => ({
        type: "polygon",
        shape: { points: p.band.map((pt) => api.coord(pt)) },
        style: { fill: p.bandFill, stroke: null },
      }),
    });
    p.boots.forEach((b) => {
      series.push({
        type: "line",
        xAxisIndex: i,
        yAxisIndex: i,
        data: b,
        step: isRoc ? "end" : false,
        showSymbol: false,
        symbol: "none",
        silent: true,
        clip: false,
        z: 2,
        lineStyle: { color: PINK_LINE, width: 1.3 },
      });
    });
    if (isRoc) {
      series.push({
        type: "line",
        xAxisIndex: i,
        yAxisIndex: i,
        data: diagonal,
        showSymbol: false,
        symbol: "none",
        silent: true,
        clip: false,
        z: 3,
        lineStyle: { color: "#4a4aa8", width: 1.3, type: [3, 3] },
      });
    }
    series.push({
      type: "line",
      xAxisIndex: i,
      yAxisIndex: i,
      data: p.main,
      step: isRoc ? "end" : false,
      showSymbol: false,
      symbol: "none",
      silent: true,
      clip: false,
      z: 4,
      lineStyle: { color: RED, width: 3.6, join: "miter" },
    });
  });

  const graphics: any[] = [];
  grids.forEach((g, i) => {
    const cx = g.left + g.width / 2;
    graphics.push(textEl(cx, titleBaselines[i][0], titleLine1[i], 30, "center"));
    graphics.push(textEl(cx, titleBaselines[i][1], titleLine2[i], 30, "center"));
    graphics.push(textEl(letterPos[i][0], letterPos[i][1], panelLetters[i], 38, "left", true, 0.82));
    graphics.push(textEl(annotRight[i], annotBaselines[i][0], metricText[i], 30, "right"));
    graphics.push(textEl(annotRight[i], annotBaselines[i][1], ciText[i], 30, "right"));
  });

  return {
    animation: false,
    backgroundColor: "#ffffff",
    grid,
    xAxis,
    yAxis,
    series,
    graphic: { elements: graphics },
  };
}

export default function App() {
  const ref = useRef<HTMLDivElement>(null);
  useEffect(() => {
    if (!ref.current) return;
    const chart = echarts.init(ref.current, undefined, { renderer: "svg", width: PAGE_W, height: PAGE_H });
    chart.setOption(buildOption() as any);
    return () => chart.dispose();
  }, []);
  return (
    <div
      ref={ref}
      style={{ position: "absolute", left: 0, top: 0, width: PAGE_W, height: PAGE_H, background: "#fff" }}
    />
  );
}
